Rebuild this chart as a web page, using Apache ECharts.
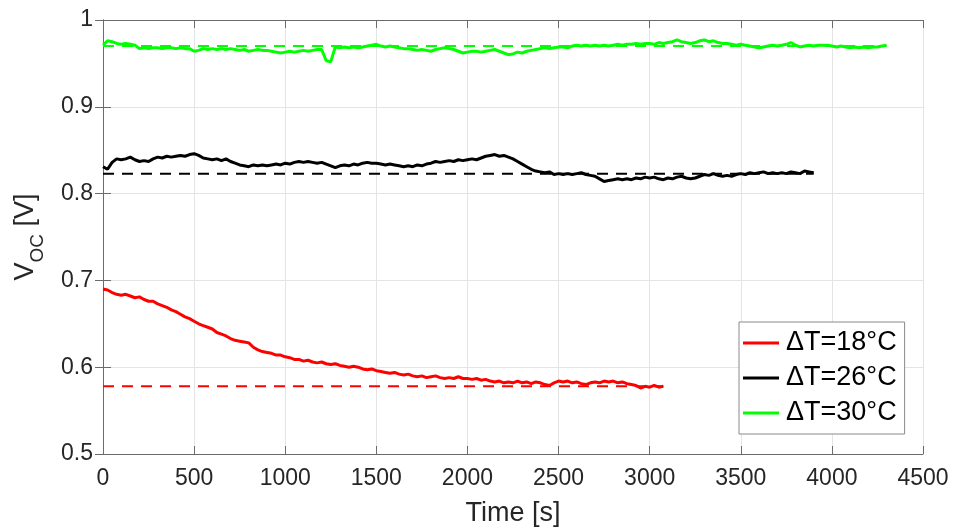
<!DOCTYPE html>
<html>
<head>
<meta charset="utf-8">
<script src="https://cdn.jsdelivr.net/npm/echarts@6/dist/echarts.min.js"></script>
<style>
  html, body { margin: 0; padding: 0; background: #fff; }
  #chart { width: 957px; height: 527px; }
</style>
</head>
<body>
<div id="chart"></div>
<script>
// Open-circuit voltage logged every 25 s for three temperature differences
const sampleStep = 25; // seconds between samples

const voc18 = [
  0.690,0.689,0.686,0.684,0.683,0.684,0.682,0.680,0.681,0.678,0.676,0.676,0.673,0.671,0.669,0.666,
  0.664,0.661,0.658,0.656,0.653,0.650,0.648,0.646,0.644,0.640,0.638,0.636,0.633,0.631,0.630,0.629,
  0.628,0.623,0.620,0.618,0.617,0.616,0.614,0.614,0.612,0.611,0.609,0.609,0.607,0.608,0.606,0.605,
  0.606,0.604,0.603,0.604,0.602,0.601,0.600,0.601,0.600,0.598,0.597,0.598,0.596,0.595,0.594,0.593,
  0.594,0.592,0.591,0.592,0.590,0.589,0.590,0.588,0.589,0.590,0.588,0.587,0.588,0.587,0.589,0.587,
  0.587,0.586,0.587,0.585,0.586,0.584,0.583,0.584,0.582,0.583,0.582,0.584,0.582,0.583,0.581,0.583,
  0.582,0.580,0.579,0.582,0.584,0.583,0.584,0.582,0.583,0.581,0.580,0.582,0.583,0.582,0.584,0.583,
  0.584,0.582,0.583,0.581,0.580,0.579,0.576,0.578,0.577,0.579,0.577,0.578
];

const voc26 = [
  0.831,0.828,0.836,0.840,0.839,0.840,0.842,0.839,0.837,0.838,0.837,0.840,0.842,0.841,0.843,0.842,
  0.843,0.844,0.843,0.845,0.846,0.844,0.841,0.840,0.839,0.840,0.838,0.840,0.837,0.835,0.833,0.832,
  0.831,0.833,0.832,0.833,0.832,0.833,0.834,0.833,0.835,0.834,0.836,0.837,0.836,0.837,0.836,0.835,
  0.836,0.834,0.832,0.830,0.832,0.833,0.832,0.834,0.833,0.835,0.836,0.835,0.835,0.834,0.833,0.834,
  0.833,0.832,0.831,0.832,0.831,0.833,0.832,0.834,0.835,0.837,0.836,0.837,0.838,0.837,0.839,0.838,
  0.839,0.840,0.839,0.841,0.843,0.844,0.845,0.843,0.844,0.842,0.840,0.837,0.834,0.831,0.828,0.826,
  0.825,0.824,0.825,0.822,0.823,0.822,0.823,0.822,0.823,0.824,0.822,0.821,0.820,0.817,0.814,0.815,
  0.816,0.817,0.816,0.817,0.816,0.818,0.817,0.819,0.818,0.819,0.817,0.816,0.818,0.817,0.819,0.820,
  0.818,0.817,0.818,0.820,0.822,0.821,0.823,0.821,0.820,0.821,0.820,0.822,0.823,0.822,0.824,0.823,
  0.824,0.825,0.823,0.824,0.823,0.824,0.823,0.825,0.824,0.823,0.826,0.825,0.824
];

const voc30 = [
  0.971,0.976,0.975,0.973,0.972,0.973,0.972,0.971,0.967,0.968,0.967,0.968,0.968,0.967,0.968,0.968,
  0.967,0.968,0.967,0.967,0.964,0.965,0.967,0.966,0.967,0.966,0.967,0.966,0.967,0.966,0.965,0.966,
  0.964,0.965,0.966,0.965,0.965,0.964,0.963,0.962,0.963,0.964,0.963,0.964,0.965,0.964,0.965,0.966,
  0.966,0.953,0.952,0.969,0.968,0.969,0.968,0.969,0.968,0.969,0.970,0.971,0.972,0.970,0.969,0.970,
  0.969,0.968,0.967,0.967,0.966,0.965,0.966,0.965,0.964,0.966,0.967,0.968,0.967,0.966,0.964,0.962,
  0.963,0.964,0.964,0.963,0.964,0.965,0.966,0.964,0.962,0.960,0.961,0.963,0.962,0.964,0.965,0.966,
  0.967,0.968,0.967,0.968,0.969,0.969,0.968,0.970,0.971,0.970,0.971,0.970,0.971,0.970,0.971,0.970,
  0.971,0.972,0.971,0.972,0.972,0.973,0.972,0.973,0.973,0.972,0.974,0.973,0.974,0.975,0.977,0.975,
  0.974,0.973,0.974,0.976,0.977,0.975,0.976,0.974,0.973,0.973,0.972,0.971,0.972,0.971,0.970,0.969,
  0.968,0.969,0.970,0.971,0.970,0.971,0.972,0.974,0.971,0.969,0.970,0.971,0.970,0.971,0.971,0.971,
  0.970,0.969,0.970,0.969,0.968,0.969,0.968,0.969,0.968,0.969,0.969,0.970,0.971
];

// Steady-state reference levels (dashed)
const steady18 = 0.578;
const steady26 = 0.823;
const steady30 = 0.970;

const seriesNames = ['\u0394T=18\u00b0C', '\u0394T=26\u00b0C', '\u0394T=30\u00b0C'];
const seriesColors = ['#ff0000', '#000000', '#00ff00'];

const xTicks = { min: 0, max: 4500, interval: 500 };
const yTicks = { min: 0.5, max: 1, interval: 0.1 };

function toPairs(values) {
  return values.map((v, i) => [i * sampleStep, v]);
}
function levelLine(level, values) {
  return [[0, level], [(values.length - 1) * sampleStep, level]];
}

const chart = echarts.init(document.getElementById('chart'), null, { renderer: 'canvas' });

const FONT = '"Liberation Sans", Arial, sans-serif';
const axisGray = '#6b6b6b';
const textColor = '#262626';

const curves = [voc18, voc26, voc30];
const levels = [steady18, steady26, steady30];

const series = [];
curves.forEach((vals, k) => {
  series.push({
    type: 'line',
    data: levelLine(levels[k], vals),
    symbol: 'none',
    silent: true,
    lineStyle: { color: seriesColors[k], width: 2, type: [11, 8] },
    z: 2
  });
});
curves.forEach((vals, k) => {
  series.push({
    name: seriesNames[k],
    type: 'line',
    data: toPairs(vals),
    symbol: 'none',
    color: seriesColors[k],
    lineStyle: { color: seriesColors[k], width: 3 },
    z: 3
  });
});

const option = {
  animation: false,
  backgroundColor: '#ffffff',
  grid: { left: 103, right: 34, top: 20, bottom: 73, containLabel: false, outerBoundsMode: 'none' },
  xAxis: [
    {
      type: 'value',
      min: xTicks.min, max: xTicks.max, interval: xTicks.interval,
      name: 'Time [s]',
      nameLocation: 'middle',
      nameGap: 46,
      nameTextStyle: { fontFamily: FONT, fontSize: 27, color: textColor },
      axisLine: { show: true, lineStyle: { color: axisGray, width: 1 } },
      axisTick: { show: true, inside: true, length: 8, lineStyle: { color: axisGray } },
      axisLabel: { fontFamily: FONT, fontSize: 23, color: textColor, margin: 13, formatter: v => String(v) },
      splitLine: { show: true, lineStyle: { color: '#e4e4e4', width: 1 } }
    },
    {
      type: 'value', position: 'top',
      min: xTicks.min, max: xTicks.max, interval: xTicks.interval,
      axisLine: { show: true, lineStyle: { color: axisGray, width: 1 } },
      axisTick: { show: true, inside: true, length: 8, lineStyle: { color: axisGray } },
      axisLabel: { show: false },
      splitLine: { show: false }
    }
  ],
  yAxis: [
    {
      type: 'value',
      min: yTicks.min, max: yTicks.max, interval: yTicks.interval,
      name: '{m|V}{s|OC}{m| [V]}',
      nameLocation: 'middle',
      nameGap: 64,
      nameRotate: 90,
      nameTextStyle: {
        fontFamily: FONT, fontSize: 27, color: textColor,
        rich: {
          m: { fontFamily: FONT, fontSize: 27, color: textColor },
          s: { fontFamily: FONT, fontSize: 19, color: textColor, verticalAlign: 'bottom', padding: [0, 0, -8, 0] }
        }
      },
      axisLine: { show: true, lineStyle: { color: axisGray, width: 1 } },
      axisTick: { show: true, inside: true, length: 8, lineStyle: { color: axisGray } },
      axisLabel: { fontFamily: FONT, fontSize: 23, color: textColor, margin: 10, formatter: v => String(Math.round(v * 10) / 10) },
      splitLine: { show: true, lineStyle: { color: '#e4e4e4', width: 1 } }
    },
    {
      type: 'value', position: 'right',
      min: yTicks.min, max: yTicks.max, interval: yTicks.interval,
      axisLine: { show: true, lineStyle: { color: axisGray, width: 1 } },
      axisTick: { show: true, inside: true, length: 8, lineStyle: { color: axisGray } },
      axisLabel: { show: false },
      splitLine: { show: false }
    }
  ],
  legend: {
    data: seriesNames,
    orient: 'vertical',
    left: 739,
    top: 322,
    width: 169,
    padding: [6, 8, 6, 4],
    backgroundColor: '#ffffff',
    borderColor: '#8a8a8a',
    borderWidth: 1,
    itemWidth: 36,
    itemHeight: 3,
    itemGap: 5,
    icon: 'rect',
    selectedMode: false,
    textStyle: { fontFamily: FONT, fontSize: 27, color: '#000000', lineHeight: 30, padding: [0, 0, 0, 2] }
  },
  series: series
};

chart.setOption(option);
</script>
</body>
</html>
